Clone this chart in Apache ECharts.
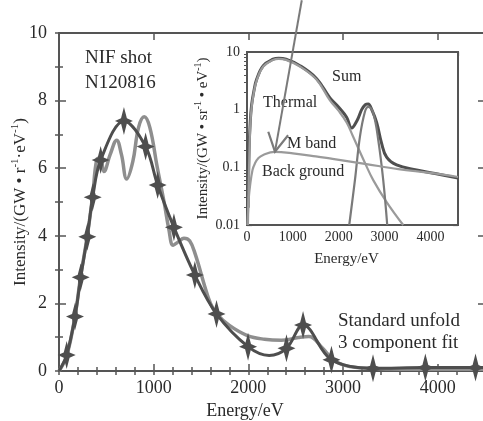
<!DOCTYPE html>
<html><head><meta charset="utf-8">
<script src="https://cdn.jsdelivr.net/npm/echarts@6/dist/echarts.min.js"></script>
<style>html,body{margin:0;padding:0;background:#fff}#c{width:483px;height:421px}</style>
</head><body><div id="c"></div>
<script>
// ---- Main panel data ----
const starE = [81,169,229,299,356,440,686,915,1042,1214,1435,1664,1997,2403,2578,2878,3317,3870,4400];
const starV = [0.47,1.61,2.77,3.97,5.14,6.24,7.4,6.64,5.5,4.25,2.84,1.69,0.72,0.67,1.36,0.33,0.08,0.1,0.1];
const guideE = [0,2220,4500];
const guideV = [0,0.46,0.1];
const fitE = [0,81,169,229,299,356,398,435,475,540,609,660,715,780,840,900,960,1037,1110,1160,1206,1260,1320,1380,1440,1540,1600,1664,1800,1990,2170,2350,2530,2640,2780,2900,3000,3150,3500,4000,4500];
const fitV = [0,0.45,1.62,2.8,4.0,5.2,6.25,6.3,5.9,6.4,6.83,6.4,5.68,6.2,7.2,7.52,7.2,6.04,5.0,4.2,3.72,3.82,3.93,3.85,3.45,2.5,2.0,1.7,1.35,1.05,0.94,0.91,0.99,1.02,0.69,0.32,0.18,0.1,0.06,0.05,0.05];
// ---- Inset data ----
const sumE = [25,45,70,100,150,210,355,570,690,850,1155,1519,1808,2000,2172,2281,2400,2500,2580,2643,2720,2826,2935,3044,3261,3697,4100,4600];
const sumV = [0.02,0.2,0.6,1.2,2.1,3.35,5.8,7.5,7.8,7.5,5.8,3.45,1.6,1.1,0.74,0.48,0.65,1.0,1.22,1.26,1.0,0.6,0.26,0.15,0.11,0.09,0.078,0.065];
const thermE = [20,45,70,100,150,210,355,570,690,850,1155,1519,1808,2000,2172,2300,2570,2752,3044,3405];
const thermV = [0.01,0.1,0.5,1.1,2.0,3.2,5.6,7.3,7.6,7.3,5.6,3.3,1.45,0.95,0.6,0.36,0.12,0.06,0.025,0.01];
const mbandE = [2229,2353,2462,2571,2643,2752,2861,2970,3057];
const mbandV = [0.01,0.06,0.34,0.92,1.12,0.87,0.3,0.06,0.01];
const bgE = [10,40,65,120,173,250,353,600,1000,1500,1865,2570,3300,4000,4600];
const bgV = [0.01,0.03,0.047,0.09,0.117,0.145,0.164,0.185,0.175,0.155,0.14,0.115,0.093,0.08,0.068];
const logMinorTicks = [0.02,0.03,0.04,0.05,0.06,0.07,0.08,0.09,0.2,0.3,0.4,0.5,0.6,0.7,0.8,0.9,2,3,4,5,6,7,8,9];
const arrowTip = [610, 0.187];
const arrowTail = [1194, 79];

const FONT = '"Liberation Serif","Times New Roman",serif';
const AX = '#555';
const TXT = '#2a2a2a';
const zip = (a,b) => a.map((v,i)=>[v,b[i]]);
const plain = v => String(v);

const unfoldData = zip(starE, starV).map(p=>({value:p}))
  .concat(zip(guideE, guideV).map(p=>({value:p, symbol:'none'})))
  .sort((a,b)=>a.value[0]-b.value[0]);

const starPath = 'path://M0,-14L2.6,-2.6L8,0L2.6,2.6L0,14L-2.6,2.6L-8,0L-2.6,-2.6Z';

function xAx(grid, pos, opts){
  return Object.assign({type:'value', gridIndex:grid, position:pos, splitLine:{show:false},
    axisLine:{show:false, lineStyle:{color:AX,width:2}},
    axisTick:{show:true, inside:true, length:6, lineStyle:{color:AX,width:1.5}},
    axisLabel:{show:false}}, opts);
}
const mainX = {min:0, max:4500};
const insetX = {min:0, max:4600};
const labelMain = {show:true, fontFamily:FONT, fontSize:18, color:TXT, margin:8, showMaxLabel:false, formatter:plain};
const labelInset = {show:true, fontFamily:FONT, fontSize:14, color:TXT, margin:5, showMaxLabel:false, formatter:plain};

const xAxis = [
  xAx(0,'bottom',Object.assign({}, mainX, {interval:1000, axisLine:{show:true,onZero:false,lineStyle:{color:AX,width:2}}, axisTick:{show:true,inside:true,length:7,lineStyle:{color:AX,width:1.5}}, axisLabel:labelMain,
    name:'Energy/eV', nameLocation:'middle', nameGap:28, nameTextStyle:{fontFamily:FONT,fontSize:18,color:TXT,padding:[0,54,0,0]}})),
  xAx(0,'bottom',Object.assign({}, mainX, {interval:200, axisTick:{show:true,inside:true,length:4,lineStyle:{color:AX,width:1.5}}})),
  xAx(0,'top',Object.assign({}, mainX, {interval:1000, axisLine:{show:true,onZero:false,lineStyle:{color:AX,width:2}}, axisTick:{show:true,inside:true,length:7,lineStyle:{color:AX,width:1.5}}})),
  xAx(0,'top',Object.assign({}, mainX, {interval:200, axisTick:{show:true,inside:true,length:4,lineStyle:{color:AX,width:1.5}}})),
  xAx(1,'bottom',Object.assign({}, insetX, {interval:1000, axisLine:{show:true,onZero:false,lineStyle:{color:AX,width:2}}, axisTick:{show:true,inside:true,length:4,lineStyle:{color:AX,width:1.2}}, axisLabel:labelInset,
    name:'Energy/eV', nameLocation:'middle', nameGap:27, nameTextStyle:{fontFamily:FONT,fontSize:15,color:TXT,padding:[0,12,0,0]}})),
  xAx(1,'bottom',Object.assign({}, insetX, {interval:250, axisTick:{show:true,inside:true,length:3,lineStyle:{color:AX,width:1}}})),
  xAx(1,'top',Object.assign({}, insetX, {interval:1000, axisLine:{show:true,onZero:false,lineStyle:{color:AX,width:2}}, axisTick:{show:true,inside:true,length:4,lineStyle:{color:AX,width:1.2}}})),
  xAx(1,'top',Object.assign({}, insetX, {interval:250, axisTick:{show:true,inside:true,length:3,lineStyle:{color:AX,width:1}}}))
];

function yAx(grid, pos, opts){
  return Object.assign({gridIndex:grid, position:pos, splitLine:{show:false},
    axisLine:{show:false, lineStyle:{color:AX,width:2}},
    axisTick:{show:true, inside:true, length:6, lineStyle:{color:AX,width:1.5}},
    axisLabel:{show:false}}, opts);
}
const mainY = {type:'value', min:0, max:10};
const insetY = {type:'log', logBase:10, min:0.01, max:10};
const supRich = {s:{fontFamily:FONT, fontSize:11, color:TXT, verticalAlign:'top', lineHeight:17}};
const supRichS = {s:{fontFamily:FONT, fontSize:10, color:TXT, verticalAlign:'top', lineHeight:16}};
const yAxis = [
  yAx(0,'left',Object.assign({}, mainY, {interval:2, axisLine:{show:true,onZero:false,lineStyle:{color:AX,width:2}}, axisTick:{show:true,inside:true,length:7,lineStyle:{color:AX,width:1.5}},
    axisLabel:Object.assign({}, labelMain, {margin:12, showMaxLabel:true}),
    name:'Intensity/(GW • r{s|-1}·eV{s|-1})', nameLocation:'middle', nameGap:28, nameMoveOverlap:false,
    nameTextStyle:{fontFamily:FONT,fontSize:17,color:TXT,lineHeight:21,rich:supRich}})),
  yAx(0,'left',Object.assign({}, mainY, {interval:1, axisTick:{show:true,inside:true,length:4,lineStyle:{color:AX,width:1.5}}})),
  yAx(0,'right',Object.assign({}, mainY, {interval:2, axisLine:{show:true,onZero:false,lineStyle:{color:AX,width:2}}, axisTick:{show:true,inside:true,length:7,lineStyle:{color:AX,width:1.5}}})),
  yAx(0,'right',Object.assign({}, mainY, {interval:1, axisTick:{show:true,inside:true,length:4,lineStyle:{color:AX,width:1.5}}})),
  yAx(1,'left',Object.assign({}, insetY, {axisLine:{show:true,onZero:false,lineStyle:{color:AX,width:2}}, axisTick:{show:true,inside:true,length:5,lineStyle:{color:AX,width:1.2}},
    axisLabel:Object.assign({}, labelInset, {margin:7, showMaxLabel:true}),
    name:'Intensity/(GW • sr{s|-1} • eV{s|-1})', nameLocation:'middle', nameGap:35,
    nameTextStyle:{fontFamily:FONT,fontSize:15,color:TXT,lineHeight:18,rich:supRichS}})),
  yAx(1,'left',Object.assign({}, insetY, {axisTick:{show:true,inside:true,length:3,customValues:logMinorTicks,lineStyle:{color:AX,width:1}}})),
  yAx(1,'right',Object.assign({}, insetY, {axisLine:{show:true,onZero:false,lineStyle:{color:AX,width:2}}, axisTick:{show:true,inside:true,length:5,lineStyle:{color:AX,width:1.2}}})),
  yAx(1,'right',Object.assign({}, insetY, {axisTick:{show:true,inside:true,length:3,customValues:logMinorTicks,lineStyle:{color:AX,width:1}}}))
];

const insetLine = (name, E, V, color, width) => ({type:'line', name, xAxisIndex:4, yAxisIndex:4, data:zip(E,V), smooth:0.4, symbol:'none', clip:true, lineStyle:{color, width}, z:5});

const option = {
  animation:false,
  backgroundColor:'#fff',
  grid:[
    {left:59, top:33, width:426, height:338, show:false, containLabel:false, outerBoundsMode:'none'},
    {left:247, top:52, width:211, height:173, show:true, backgroundColor:'#fff', borderColor:AX, borderWidth:2, z:3, containLabel:false, outerBoundsMode:'none'}
  ],
  xAxis, yAxis,
  series:[
    {type:'line', name:'3 component fit', xAxisIndex:0, yAxisIndex:0, data:zip(fitE, fitV), smooth:0.4, symbol:'none', lineStyle:{color:'#8e8e8e', width:3.5}, z:2},
    {type:'line', name:'Standard unfold', xAxisIndex:0, yAxisIndex:0, data:unfoldData, smooth:0.35, symbol:starPath, symbolSize:[18,28], showAllSymbol:true,
      itemStyle:{color:'#4e4e4e'}, lineStyle:{color:'#4e4e4e', width:3}, z:3},
    insetLine('Sum', sumE, sumV, '#4f4f4f', 3),
    insetLine('Thermal', thermE, thermV, '#9a9a9a', 2.2),
    insetLine('M band', mbandE, mbandV, '#7a7a7a', 2.2),
    insetLine('Back ground', bgE, bgV, '#9a9a9a', 2.2)
  ]
};
const chart = echarts.init(document.getElementById('c'), null, {renderer:'canvas'});
chart.setOption(option);

const txt = (s, x, y, size) => ({type:'text', x, y, z:50, style:{text:s, font:size+'px '+FONT, fill:TXT, textAlign:'left', textVerticalAlign:'middle'}});
const tip = chart.convertToPixel({xAxisIndex:4, yAxisIndex:4}, arrowTip);
const tail = chart.convertToPixel({xAxisIndex:4, yAxisIndex:4}, arrowTail);
const ang = Math.atan2(tail[1]-tip[1], tail[0]-tip[0]);
const L = 21, sp = 0.5;
const a1 = [tip[0]+L*Math.cos(ang+sp), tip[1]+L*Math.sin(ang+sp)];
const a2 = [tip[0]+L*Math.cos(ang-sp), tip[1]+L*Math.sin(ang-sp)];
chart.setOption({graphic:[
  txt('NIF shot', 85, 58, 19),
  txt('N120816', 85, 83, 19),
  txt('Standard unfold', 338, 321, 19),
  txt('3 component fit', 338, 343, 19),
  txt('Sum', 332, 77, 16),
  txt('Thermal', 263, 103, 16),
  txt('M band', 287, 144, 16),
  txt('Back ground', 262, 172, 16),
  {type:'line', z:60, shape:{x1:tail[0], y1:tail[1], x2:tip[0], y2:tip[1]}, style:{stroke:'#7a7a7a', lineWidth:2}},
  {type:'polyline', z:60, shape:{points:[a1, tip, a2]}, style:{stroke:'#7a7a7a', lineWidth:2.2, fill:null}}
]});
</script></body></html>
